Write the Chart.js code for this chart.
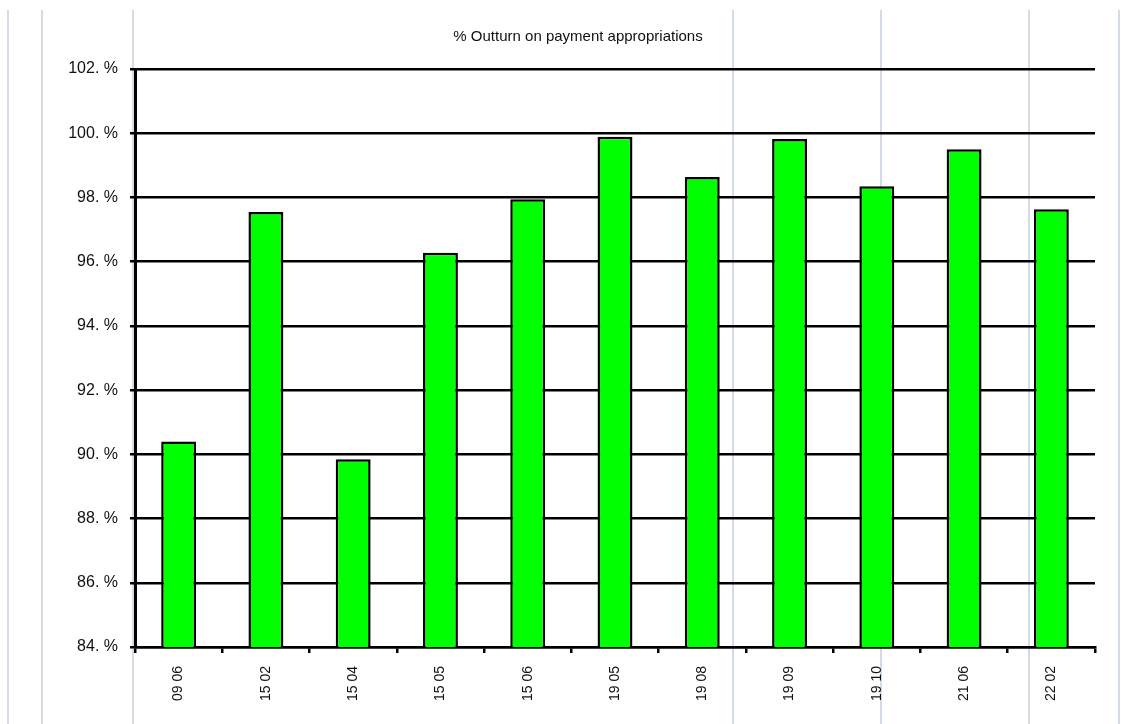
<!DOCTYPE html>
<html>
<head>
<meta charset="utf-8">
<script src="https://cdn.jsdelivr.net/npm/chart.js@4.4.1/dist/chart.umd.min.js"></script>
<style>
  html, body { margin: 0; padding: 0; background: #fff; }
  #wrap { width: 1132px; height: 724px; position: relative; }
</style>
</head>
<body>
<div id="wrap"><canvas id="outturnChart"></canvas></div>
<script>
// datos del grafico
const categories = ['09 06', '15 02', '15 04', '15 05', '15 06', '19 05', '19 08', '19 09', '19 10', '21 06', '22 02'];
const outturn = [90.40, 97.55, 89.85, 96.28, 97.94, 99.89, 98.64, 99.82, 98.35, 99.50, 97.63];
const yTicks = [84, 86, 88, 90, 92, 94, 96, 98, 100, 102];

// lineas de fondo (bordes de la tabla detras del grafico)
const tableLines = {
    id: 'tableLines',
    beforeDraw(chart) {
        const ctx = chart.ctx;
        ctx.save();
        ctx.strokeStyle = '#d3dbe7';
        ctx.lineWidth = 2;
        [8, 42, 133, 733, 881, 1029, 1119].forEach(x => {
            ctx.beginPath();
            ctx.moveTo(x, 10);
            ctx.lineTo(x, 724);
            ctx.stroke();
        });
        ctx.restore();
    }
};

const ctx = document.getElementById('outturnChart').getContext('2d');
const outturnChart = new Chart(ctx, {
    type: 'bar',
    data: {
        labels: categories,
        datasets: [{
            data: outturn,
            backgroundColor: '#00ff00',
            borderColor: '#000',
            borderWidth: 2.5,
            categoryPercentage: 1,
            barPercentage: 0.4
        }]
    },
    options: {
        responsive: true,
        maintainAspectRatio: false,
        animation: false,
        layout: { padding: { left: 61, right: 37, top: 0, bottom: 0 } },
        plugins: {
            legend: { display: false },
            tooltip: { enabled: false },
            title: {
                display: true,
                text: '% Outturn on payment appropriations',
                color: '#111',
                font: { family: 'Liberation Sans, Arial, sans-serif', size: 15, weight: 'normal' },
                padding: { top: 28, bottom: 23 }
            }
        },
        scales: {
            x: {
                grid: { drawOnChartArea: false, drawTicks: true, tickLength: 6, color: '#000', lineWidth: 2.5, offset: true },
                border: { color: '#000', width: 2.5 },
                ticks: {
                    color: '#111',
                    font: { family: 'Liberation Sans, Arial, sans-serif', size: 14 },
                    minRotation: 90,
                    maxRotation: 90,
                    padding: 13
                },
                afterFit: s => { s.height = 77; }
            },
            y: {
                min: 84,
                max: 102,
                afterBuildTicks: s => { s.ticks = yTicks.map(v => ({ value: v })); },
                grid: { color: '#000', lineWidth: 2.5, tickLength: 5 },
                border: { color: '#000', width: 3 },
                ticks: {
                    color: '#111',
                    font: { family: 'Liberation Sans, Arial, sans-serif', size: 16 },
                    padding: 12,
                    callback: v => v + '. %'
                },
                afterFit: s => { s.width = 74; }
            }
        }
    },
    plugins: [tableLines]
});
</script>
</body>
</html>
